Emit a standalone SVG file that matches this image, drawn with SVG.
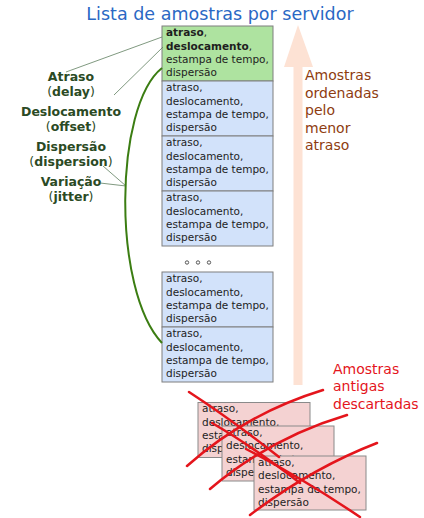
<svg xmlns="http://www.w3.org/2000/svg" width="424" height="518" viewBox="0 0 424 518">
<style>
text{font-family:"DejaVu Sans","Liberation Sans",sans-serif}
.bt{font-size:10.5px;fill:#1e1e1e}
.lbl{font-size:12.5px;font-weight:bold;fill:#2b4a24;text-anchor:middle}
.lbl .p{font-weight:normal}
.green{fill:#aee3a0;stroke:#7f7f7f;stroke-width:1}
.blue{fill:#d2e2fa;stroke:#7f7f7f;stroke-width:1}
.pink{fill:#f4d2d2;stroke:#8a8a8a;stroke-width:1}
.thin{fill:none;stroke:#5f7f5f;stroke-width:0.8}
.x{fill:none;stroke:#e4151c;stroke-width:2.5;stroke-linecap:round}
.brown{font-size:14px;fill:#8e3c10}
.red{font-size:14px;fill:#e4151c}
</style>
<defs>
<g id="lines">
<text class="bt" x="4" y="10">atraso,</text>
<text class="bt" x="4" y="23.5">deslocamento,</text>
<text class="bt" x="4" y="37">estampa de tempo,</text>
<text class="bt" x="4" y="50">dispersão</text>
</g>
</defs>
<rect width="424" height="518" fill="#fff"/>
<text id="title" x="220" y="20" text-anchor="middle" style="font-size:17.5px;fill:#2a68c4">Lista de amostras por servidor</text>

<g id="sort-arrow">
<polygon points="293.5,385 302.5,385 302.5,67 313,67 298,25 284,67 293.5,67" fill="#fde2d4"/>
<text class="brown" x="305" y="79.5">Amostras</text>
<text class="brown" x="305" y="97.5">ordenadas</text>
<text class="brown" x="305" y="115">pelo</text>
<text class="brown" x="305" y="132.5">menor</text>
<text class="brown" x="305" y="150">atraso</text>
</g>

<g id="sample-best">
<rect class="green" x="162" y="26" width="111" height="55"/>
<text class="bt" x="166" y="36" font-weight="bold">atraso<tspan font-weight="normal">,</tspan></text>
<text class="bt" x="166" y="49.5" font-weight="bold">deslocamento<tspan font-weight="normal">,</tspan></text>
<text class="bt" x="166" y="63">estampa de tempo,</text>
<text class="bt" x="166" y="76">dispersão</text>
</g>
<g id="sample-2"><rect class="blue" x="162" y="81" width="111" height="55"/><use href="#lines" x="162" y="81"/></g>
<g id="sample-3"><rect class="blue" x="162" y="136" width="111" height="55"/><use href="#lines" x="162" y="136"/></g>
<g id="sample-4"><rect class="blue" x="162" y="191" width="111" height="55"/><use href="#lines" x="162" y="191"/></g>
<g id="ellipsis" fill="none" stroke="#444" stroke-width="0.9">
<circle cx="187" cy="262.5" r="1.7"/><circle cx="198" cy="262.5" r="1.7"/><circle cx="209" cy="262.5" r="1.7"/>
</g>
<g id="sample-7"><rect class="blue" x="162" y="272" width="111" height="55"/><use href="#lines" x="162" y="272"/></g>
<g id="sample-8"><rect class="blue" x="162" y="327" width="111" height="55"/><use href="#lines" x="162" y="327"/></g>

<g id="labels">
<text class="lbl" x="71" y="81">Atraso</text>
<text class="lbl" x="71" y="96"><tspan class="p">(</tspan>delay<tspan class="p">)</tspan></text>
<text class="lbl" x="71" y="116">Deslocamento</text>
<text class="lbl" x="71" y="131"><tspan class="p">(</tspan>offset<tspan class="p">)</tspan></text>
<text class="lbl" x="71" y="151">Dispersão</text>
<text class="lbl" x="71" y="165.5"><tspan class="p">(</tspan>dispersion<tspan class="p">)</tspan></text>
<text class="lbl" x="71" y="186">Variação</text>
<text class="lbl" x="71" y="200.5"><tspan class="p">(</tspan>jitter<tspan class="p">)</tspan></text>
</g>

<g id="connectors">
<path class="thin" d="M162,37 L66,72"/>
<path class="thin" d="M163,47 L114,95"/>
<path class="thin" d="M103,166 L126,186"/>
<path class="thin" d="M100,183 L126,186"/>
<path d="M162,68 C114,106 112,290 162,343" fill="none" stroke="#3b7d12" stroke-width="2"/>
</g>

<g id="discarded-1"><rect class="pink" x="198" y="402.5" width="112" height="55"/><use href="#lines" x="198" y="402"/></g>
<g id="discarded-2"><rect class="pink" x="222" y="426" width="112" height="55"/><use href="#lines" x="222" y="425.5"/></g>
<g id="discarded-3"><rect class="pink" x="254" y="456" width="112" height="54"/><use href="#lines" x="254" y="455.5"/></g>

<g id="crosses">
<path class="x" d="M189,392 Q232,420 279,457"/>
<path class="x" d="M187,466 Q245,414 323,390"/>
<path class="x" d="M212,423 Q252,446 300,483"/>
<path class="x" d="M210,489 Q270,438 347,415"/>
<path class="x" d="M246,449 Q302,478 360,517"/>
<path class="x" d="M250,515 Q312,468 377,443"/>
</g>

<g id="discard-label">
<text class="red" x="333" y="373.5">Amostras</text>
<text class="red" x="333" y="391">antigas</text>
<text class="red" x="333" y="408.5">descartadas</text>
</g>
</svg>
